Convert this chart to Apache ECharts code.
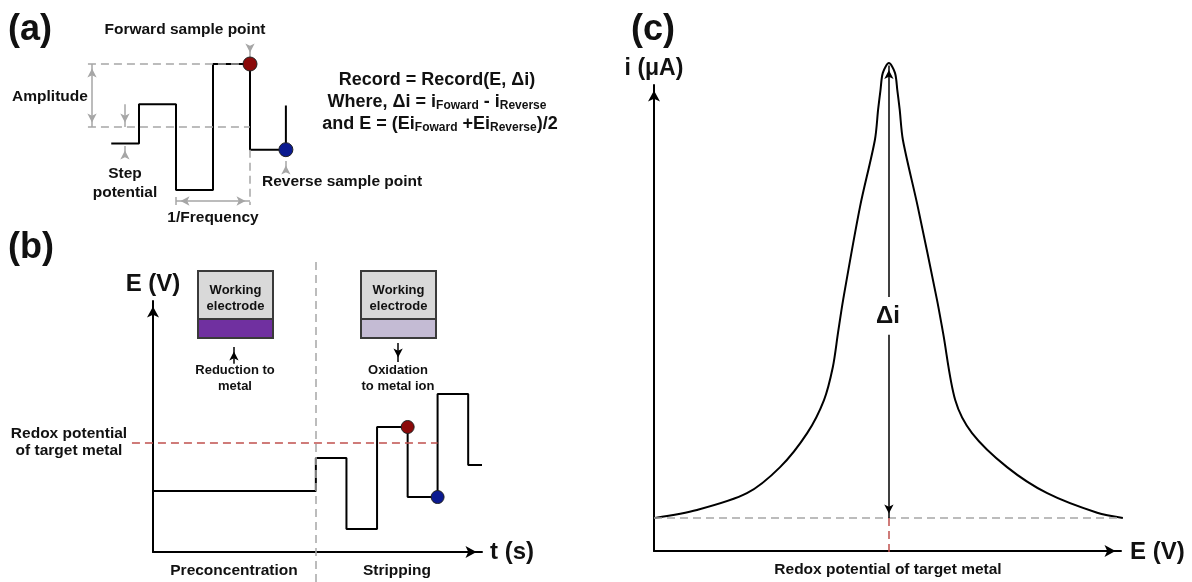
<!DOCTYPE html>
<html><head><meta charset="utf-8">
<script src="https://cdn.jsdelivr.net/npm/echarts@6/dist/echarts.min.js"></script>
<style>html,body{margin:0;padding:0;background:#fff}#main{width:1192px;height:582px}</style>
</head><body><div id="main"></div>
<script>
// ---------- Panel (a): square-wave potential waveform ----------
const aTime = [-0.75, 0, 1, 2, 3, 3.97];
const aPotential = [3.7, 6.8, 0, 10, 3.2, 6.7];
const aForwardSample = [3, 10];
const aReverseSample = [3.97, 3.2];
const aAmplitudeLevels = [5, 10];

// ---------- Panel (b): preconcentration + stripping waveform ----------
const bTime = [0, 49.5, 58.8, 68.1, 77.4, 86.5, 95.8, 100];
const bPotential = [24.3, 37.5, 9.2, 49.8, 21.9, 62.9, 34.7, 34.7];
const bForwardSample = [77.4, 49.8];
const bReverseSample = [86.5, 21.9];
const bRedoxPotential = 43.4;
const bPhaseBoundary = 49.5;

// ---------- Panel (c): differential current peak ----------
const cPotential = [0.2, 9.2, 19.9, 27.0, 32.8, 36.4, 38.3, 39.4, 40.5, 44.1, 47.3, 48.0, 48.5, 49.0, 50.3, 51.6, 52.1, 52.6, 53.3, 56.5, 60.6, 61.9, 64.5, 68.1, 75.6, 84.2, 94.9, 100.4];
const cCurrent   = [7.1, 8.8, 12.4, 18.0, 25.3, 32.4, 39.5, 46.8, 53.9, 73.8, 88.2, 94.8, 98.9, 102.6, 104.7, 102.6, 98.9, 94.8, 88.2, 73.8, 53.9, 46.8, 32.4, 25.3, 18.0, 12.4, 8.2, 7.1];
const cPeakPotential = 50.3;
const cPeakCurrent = 104.7;
const cBaseline = 7.1;

const zip = (xs, ys) => xs.map((x, i) => [x, ys[i]]);
const FONT = '"Liberation Sans", Arial, sans-serif';
const GRAY = '#a6a6a6';
const RED_DASH = '#c0504d';
const INK = '#111';

function seg(p, q, style, s1, s2, size) {
  const sz = size || [7, 9];
  return [
    {coord: p, symbol: s1 || 'none', symbolSize: sz, symbolOffset: [0, sz[1] / 2], lineStyle: style},
    {coord: q, symbol: s2 || 'none', symbolSize: sz, symbolOffset: [0, sz[1] / 2]}
  ];
}
const grayDash = {color: GRAY, width: 1.5, type: [8, 5]};
const graySolid = {color: GRAY, width: 1.5, type: 'solid'};
const redDash = {color: RED_DASH, width: 1.5, type: [8, 5]};
const blackSolid = {color: '#000', width: 1.5, type: 'solid'};

const arrowAxis = (gi, min, max) => ({
  gridIndex: gi, type: 'value', min, max,
  axisLine: {show: true, onZero: false, symbol: ['none', 'arrow'], symbolSize: [9, 11], symbolOffset: [0, -5.5],
             lineStyle: {color: '#000', width: 2}},
  axisTick: {show: false}, axisLabel: {show: false}, splitLine: {show: false}
});
const hiddenAxis = (gi, min, max) => ({gridIndex: gi, type: 'value', min, max, show: false, splitLine: {show: false}});

// visible axis boxes (pixel layout) and their value ranges
const boxB = {left: 153, top: 301, width: 329, height: 251};
const boxC = {left: 654, top: 85, width: 467, height: 466};
const rangeB = {x: [0, 100], y: [0, 100]}, extB = {x: [-8, 102], y: [-14, 118]};
const rangeC = {x: [0, 100], y: [0, 100]}, extC = {x: [-2, 102], y: [-3, 110]};
// hidden data grid sharing the same scale as the visible axes, with a wider extent for annotations
function extendGrid(box, r, e) {
  const kx = box.width / (r.x[1] - r.x[0]), ky = box.height / (r.y[1] - r.y[0]);
  return {left: box.left - (r.x[0] - e.x[0]) * kx, width: (e.x[1] - e.x[0]) * kx,
          top: box.top - (e.y[1] - r.y[1]) * ky, height: (e.y[1] - e.y[0]) * ky,
          outerBoundsMode: 'none', containLabel: false};
}

const aLo = aAmplitudeLevels[0], aHi = aAmplitudeLevels[1];
const markA = [
  seg([-1.38, aHi], [2.85, aHi], grayDash),
  seg([-1.38, aLo], [aForwardSample[0], aLo], grayDash),
  seg([aForwardSample[0], aReverseSample[1]], [aForwardSample[0], -1.2], grayDash),
  seg([-1.27, aLo], [-1.27, aHi], graySolid, 'arrow', 'arrow'),
  seg([-0.38, aPotential[1]], [-0.38, aLo], graySolid, 'none', 'arrow'),
  seg([-0.38, 2.75], [-0.38, 3.5], graySolid, 'none', 'arrow'),
  seg([aTime[2], -0.87], [aForwardSample[0], -0.87], graySolid, 'arrow', 'arrow'),
  seg([aTime[2], -0.55], [aTime[2], -1.2], graySolid),
  seg([aForwardSample[0], 11.4], [aForwardSample[0], 10.55], graySolid, 'none', 'arrow'),
  seg([aReverseSample[0], 1.4], [aReverseSample[0], 2.3], graySolid, 'none', 'arrow')
];
const markB = [
  seg([-6.4, bRedoxPotential], [bReverseSample[0], bRedoxPotential], redDash),
  seg([bPhaseBoundary, -12], [bPhaseBoundary, 115.5], grayDash),
  seg([24.6, 75.0], [24.6, 81.7], blackSolid, 'none', 'arrow'),
  seg([74.5, 83.3], [74.5, 75.7], blackSolid, 'none', 'arrow')
];
const markC = [
  seg([0, cBaseline], [100, cBaseline], grayDash),
  seg([cPeakPotential, cBaseline], [cPeakPotential, -1.3], redDash),
  seg([cPeakPotential, 54.5], [cPeakPotential, cPeakCurrent - 0.5], blackSolid, 'none', 'arrow'),
  seg([cPeakPotential, 46.4], [cPeakPotential, cBaseline], blackSolid, 'none', 'arrow')
];
const mk = (data) => ({silent: true, animation: false, symbol: ['none', 'none'], label: {show: false}, data});

const sampleStyle = (c) => ({color: c, borderColor: '#222', borderWidth: 1, opacity: 1});

function txt(text, x, y, size, align) {
  return {type: 'text', silent: true, style: {
    text, x, y, font: 'bold ' + size + 'px ' + FONT, fill: INK, align: align || 'center', verticalAlign: 'middle'
  }};
}
function rich(text, x, y) {
  return {type: 'text', silent: true, style: {
    text, x, y, font: 'bold 18px ' + FONT, fill: INK, align: 'center', verticalAlign: 'middle', lineHeight: 20,
    rich: {
      m: {font: 'bold 18px ' + FONT, fill: INK, lineHeight: 20},
      s: {font: 'bold 12px ' + FONT, fill: INK, lineHeight: 6, verticalAlign: 'bottom'}
    }
  }};
}
function electrode(x, y, film) {
  return [
    {type: 'rect', silent: true, shape: {x, y, width: 75, height: 48}, style: {fill: '#d9d9d9'}},
    {type: 'rect', silent: true, shape: {x, y: y + 48, width: 75, height: 19}, style: {fill: film}},
    {type: 'rect', silent: true, shape: {x, y, width: 75, height: 67}, style: {fill: 'none', stroke: '#3a3a3a', lineWidth: 2}},
    {type: 'line', silent: true, shape: {x1: x, y1: y + 48, x2: x + 75, y2: y + 48}, style: {stroke: '#3a3a3a', lineWidth: 2}},
    txt('Working', x + 37.5, y + 19, 13),
    txt('electrode', x + 37.5, y + 35, 13)
  ];
}

const graphics = [
  txt('(a)', 8, 30, 36, 'left'),
  txt('Forward sample point', 185, 30, 15.5),
  txt('Amplitude', 50, 97, 15.5),
  txt('Step', 125, 174, 15.5),
  txt('potential', 125, 193, 15.5),
  txt('1/Frequency', 213, 218, 15.5),
  txt('Reverse sample point', 262, 182, 15.5, 'left'),
  rich('{m|Record = Record(E, Δi)}', 437, 80),
  rich('{m|Where, Δi = i}{s|Foward}{m| - i}{s|Reverse}', 437, 102),
  rich('{m|and E = (Ei}{s|Foward}{m| +Ei}{s|Reverse}{m|)/2}', 440, 124),

  txt('(b)', 8, 248, 36, 'left'),
  txt('E (V)', 153, 284, 24),
  ...electrode(198, 271, '#7030a0'),
  ...electrode(361, 271, '#c4bbd4'),
  txt('Reduction to', 235, 370, 13),
  txt('metal', 235, 386, 13),
  txt('Oxidation', 398, 370, 13),
  txt('to metal ion', 398, 386, 13),
  txt('Redox potential', 69, 434, 15.5),
  txt('of target metal', 69, 451, 15.5),
  txt('t (s)', 490, 552, 24, 'left'),
  txt('Preconcentration', 234, 571, 15.5),
  txt('Stripping', 397, 571, 15.5),

  txt('(c)', 631, 30, 36, 'left'),
  txt('i (μA)', 654, 69, 23),
  txt('Δi', 888, 316, 24),
  txt('E (V)', 1130, 552, 24, 'left'),
  txt('Redox potential of target metal', 888, 570, 15.5)
];

const option = {
  animation: false,
  backgroundColor: '#fff',
  textStyle: {fontFamily: FONT},
  grid: [
    {left: 65, top: 38.8, width: 259, height: 176.4, outerBoundsMode: 'none', containLabel: false},
    Object.assign({outerBoundsMode: 'none', containLabel: false}, boxB),
    Object.assign({outerBoundsMode: 'none', containLabel: false}, boxC),
    extendGrid(boxB, rangeB, extB),
    extendGrid(boxC, rangeC, extC)
  ],
  xAxis: [hiddenAxis(0, -2, 5), arrowAxis(1, rangeB.x[0], rangeB.x[1]), arrowAxis(2, rangeC.x[0], rangeC.x[1]),
          hiddenAxis(3, extB.x[0], extB.x[1]), hiddenAxis(4, extC.x[0], extC.x[1])],
  yAxis: [hiddenAxis(0, -2, 12), arrowAxis(1, rangeB.y[0], rangeB.y[1]), arrowAxis(2, rangeC.y[0], rangeC.y[1]),
          hiddenAxis(3, extB.y[0], extB.y[1]), hiddenAxis(4, extC.y[0], extC.y[1])],
  series: [
    {type: 'line', name: 'square wave', xAxisIndex: 0, yAxisIndex: 0, clip: false, step: 'end', symbol: 'none',
     lineStyle: {color: '#000', width: 2}, data: zip(aTime, aPotential), markLine: mk(markA), z: 3},
    {type: 'scatter', xAxisIndex: 0, yAxisIndex: 0, symbolSize: 14, clip: false, z: 5,
     data: [{value: aForwardSample, itemStyle: sampleStyle('#8b0a0a')}, {value: aReverseSample, itemStyle: sampleStyle('#0b1a90')}]},
    {type: 'line', name: 'stripping', xAxisIndex: 3, yAxisIndex: 3, clip: false, step: 'end', symbol: 'none',
     lineStyle: {color: '#000', width: 2}, data: zip(bTime, bPotential), markLine: mk(markB), z: 3},
    {type: 'scatter', xAxisIndex: 3, yAxisIndex: 3, symbolSize: 13, clip: false, z: 5,
     data: [{value: bForwardSample, itemStyle: sampleStyle('#8b0a0a')}, {value: bReverseSample, itemStyle: sampleStyle('#0b1a90')}]},
    {type: 'line', name: 'peak', xAxisIndex: 4, yAxisIndex: 4, clip: false, smooth: 0.3, symbol: 'none',
     lineStyle: {color: '#000', width: 2}, data: zip(cPotential, cCurrent), markLine: mk(markC), z: 3}
  ],
  graphic: graphics
};
const chart = echarts.init(document.getElementById('main'));
chart.setOption(option);
</script>
</body></html>
